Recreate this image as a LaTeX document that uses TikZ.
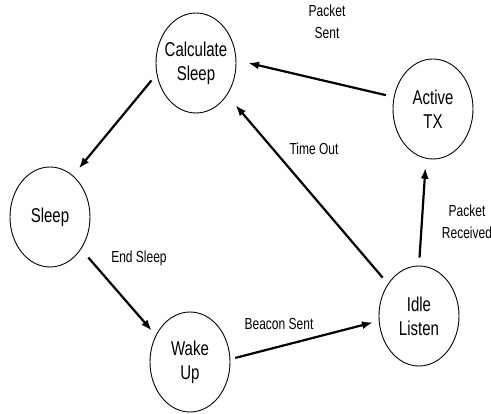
\documentclass[tikz,border=0pt]{standalone}
\usepackage{fontspec}
\setmainfont{Liberation Sans}[FakeStretch=0.75]
\usetikzlibrary{arrows.meta,shapes.geometric}
\tikzset{
    %Define standard arrow tip
    >={Latex[length=11pt,width=8pt]},
    %Define style for states
    tilstand/.style={
           ellipse,
           draw=black, line width=0.9pt,
           minimum width=80pt,
           minimum height=100pt,
           inner xsep=-12pt, inner ysep=0pt,
           align=center,
           font=\fontsize{20}{24}\selectfont},
    % Define arrow style
    pil/.style={
           ->,
           line width=2.2pt,
           shorten <=8pt,
           shorten >=9pt,},
    % Define label style
    etikett/.style={
           align=center,
           inner sep=0pt,
           font=\fontsize{16}{22}\selectfont}
}
\begin{document}
\begin{tikzpicture}[x=1pt, y=-1pt]
         \useasboundingbox (0,0) rectangle (491,414);
         %nodes
          \node[tilstand] (calc) at (196,63) {Calculate\\Sleep};
          \node[tilstand] (tx) at (433,109) {Active\\TX};
          \node[tilstand] (sleep) at (50,217) {Sleep};
          \node[tilstand] (wake) at (190,362) {Wake\\Up};
          \node[tilstand] (idle) at (419,316) {Idle\\Listen};
         %labels
          \node[etikett] (sent) at (327,22) {Packet\\Sent};
          \node[etikett] (timeout) at (314,149) {Time Out};
          \node[etikett] (received) at (467,222) {Packet\\Received};
          \node[etikett] (endsleep) at (139,258) {End Sleep};
          \node[etikett] (beacon) at (279,324) {Beacon Sent};
         %arrows
          \draw[pil, shorten >=12pt] (tx.163) -- (calc.4);
          \draw[pil, shorten >=13pt] (idle.134) -- (calc.-46);
          \draw[pil] (calc.196) -- (sleep.61);
          \draw[pil, shorten <=11pt, shorten >=6pt] (sleep.-46) -- (wake.142);
          \draw[pil, shorten <=5pt, shorten >=6pt] (wake.4) -- (idle.187);
          \draw[pil] (idle.90) -- (tx.-98);
        \end{tikzpicture}
\end{document}
